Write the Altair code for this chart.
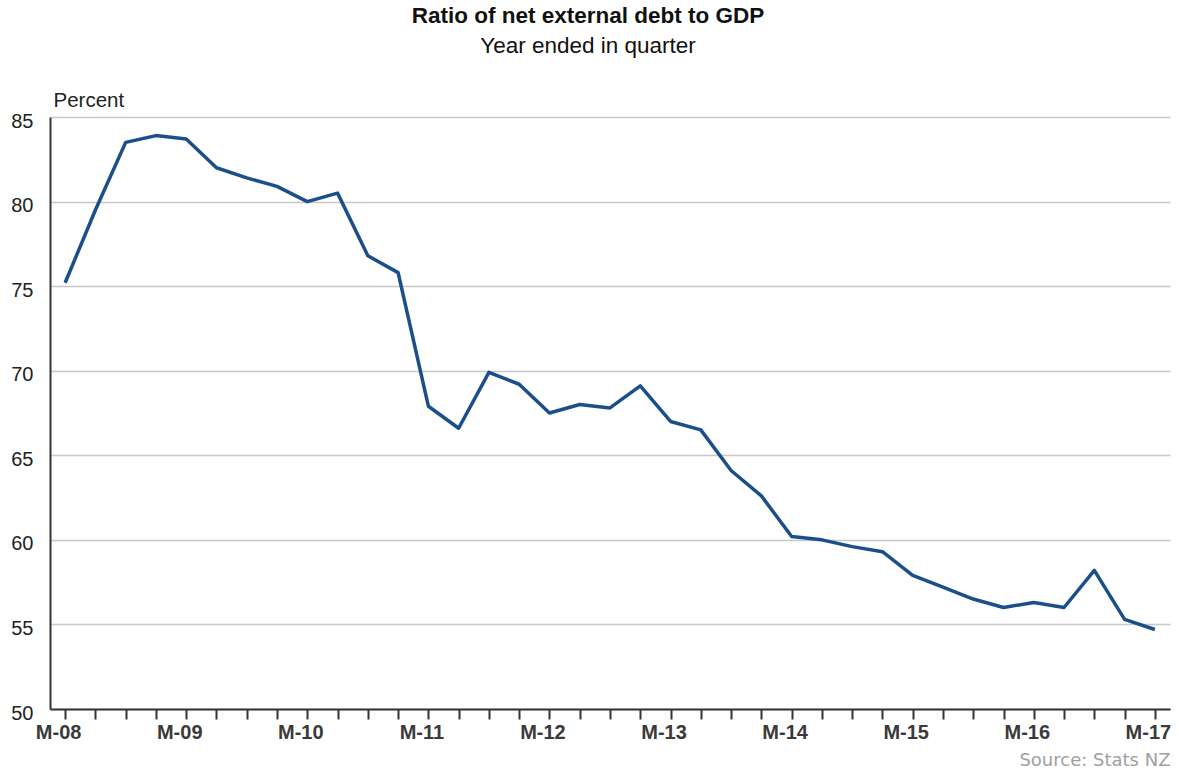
import json
import altair as alt
import pandas as pd

# Quarterly observations, March 2008 to March 2017 (index 0 = March 2008)
quarter_index = list(range(37))
debt_ratio = [75.2, 79.5, 83.5, 83.9, 83.7, 82.0, 81.4, 80.9, 80.0, 80.5,
              76.8, 75.8, 67.9, 66.6, 69.9, 69.2, 67.5, 68.0, 67.8, 69.1,
              67.0, 66.5, 64.1, 62.6, 60.2, 60.0, 59.6, 59.3, 57.9, 57.2,
              56.5, 56.0, 56.3, 56.0, 58.2, 55.3, 54.7]

# Year labels shown at every fourth (March) quarter
year_labels = ["M-08", "M-09", "M-10", "M-11", "M-12",
               "M-13", "M-14", "M-15", "M-16", "M-17"]
y_ticks = [50, 55, 60, 65, 70, 75, 80, 85]

df = pd.DataFrame({"q": quarter_index, "ratio": debt_ratio})

label_expr = (
    "datum.value % 4 == 0 ? " + json.dumps(year_labels) + "[datum.value / 4] : ''"
)

FONT = "Liberation Sans"

chart = (
    alt.Chart(df)
    .mark_line(color="#1b4f8a", strokeWidth=3.5, strokeJoin="round")
    .encode(
        x=alt.X(
            "q:Q",
            scale=alt.Scale(domain=[-0.5, 36.5], nice=False, zero=False),
            axis=alt.Axis(
                values=quarter_index,
                labelExpr=label_expr,
                grid=False,
                tickSize=10,
                tickWidth=2,
                tickColor="#333333",
                domainColor="#333333",
                domainWidth=2,
                labelFont=FONT,
                labelFontSize=20,
                labelFontWeight="bold",
                labelColor="#3a3a3a",
                labelPadding=3,
                labelOffset=-7,
                labelFlush=False,
                labelOverlap=False,
                labelBound=False,
                title="Source: Stats NZ",
                titleFont="DejaVu Sans",
                titleFontSize=18,
                titleFontWeight="normal",
                titleColor="#a0a0a0",
                titleAlign="right",
                titleAnchor="end",
                titleBaseline="alphabetic",
                titleX=1120,
                titleY=56,
            ),
        ),
        y=alt.Y(
            "ratio:Q",
            scale=alt.Scale(domain=[50, 85], nice=False, zero=False),
            axis=alt.Axis(
                values=y_ticks,
                grid=True,
                gridColor="#c8c8c8",
                gridWidth=1.5,
                ticks=False,
                domainColor="#333333",
                domainWidth=2,
                labelFont=FONT,
                labelFontSize=20,
                labelColor="#222222",
                labelPadding=17,
                labelOffset=4,
                title="Percent",
                titleFont=FONT,
                titleFontSize=20.5,
                titleFontWeight="normal",
                titleColor="#222222",
                titleAngle=0,
                titleAlign="left",
                titleBaseline="alphabetic",
                titleX=3,
                titleY=-11,
            ),
        ),
    )
    .properties(
        width=1120,
        height=592,
        background="white",
        autosize=alt.AutoSizeParams(type="none"),
        padding={"left": 50, "top": 117, "right": 9, "bottom": 61},
        title=alt.TitleParams(
            text="Ratio of net external debt to GDP",
            subtitle="Year ended in quarter",
            font=FONT,
            fontSize=22.5,
            fontWeight="bold",
            color="#111111",
            subtitleFont=FONT,
            subtitleFontSize=22.5,
            subtitleColor="#111111",
            subtitlePadding=7,
            anchor="middle",
            frame="group",
            dx=-22,
            offset=33,
        ),
    )
    .configure_view(strokeWidth=0, stroke="transparent")
)

chart.save("out.html", embed_options={"renderer": "svg", "actions": False})
